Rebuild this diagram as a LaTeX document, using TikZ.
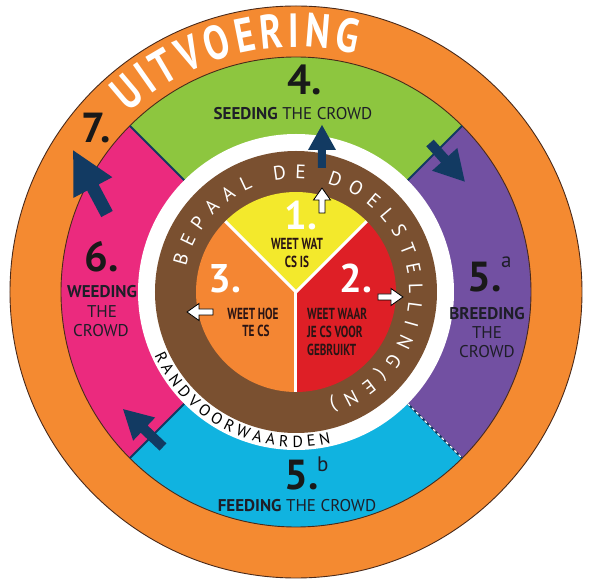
\documentclass[tikz,border=0pt]{standalone}
\usepackage{fontspec}
\setmainfont{PT Sans}
\newfontfamily\condfont[FakeStretch=0.7]{PT Sans}
\newfontfamily\arcfont[FakeStretch=0.78]{PT Sans}
\usetikzlibrary{decorations.text}
\definecolor{ringorange}{HTML}{F48A31}
\definecolor{seggreen}{HTML}{8DC63F}
\definecolor{segpurple}{HTML}{7250A2}
\definecolor{segblue}{HTML}{10B3E0}
\definecolor{segpink}{HTML}{EB2A7E}
\definecolor{ringbrown}{HTML}{7A5030}
\definecolor{pieyellow}{HTML}{F3E92C}
\definecolor{piered}{HTML}{DE1F26}
\definecolor{pieorange}{HTML}{F48633}
\definecolor{navy}{HTML}{123A62}
\definecolor{outline}{HTML}{4A2A1A}
\definecolor{lbltext}{HTML}{1E1E28}
\definecolor{pietext}{HTML}{2A1414}
\newcommand\blkarrow[7]{%
  \begin{scope}[shift={#2},rotate=#3]
    \path[#1] (0,-#7) -- ({#4-#5},-#7) -- ({#4-#5},-#6) -- (#4,0) -- ({#4-#5},#6) -- ({#4-#5},#7) -- (0,#7) -- cycle;
  \end{scope}}
\tikzset{
  lbl/.style={inner sep=0pt, text=lbltext, font=\fontsize{17}{20}\selectfont},
  bignum/.style={inner sep=0pt, text=black!90, font=\bfseries\fontsize{42}{42}\selectfont},
  pienum/.style={inner sep=0pt, text=white, font=\bfseries\fontsize{40}{40}\selectfont},
  pielbl/.style={inner sep=0pt, text=pietext, font=\condfont\bfseries\fontsize{16}{18}\selectfont},
  supl/.style={inner sep=0pt, text=lbltext, font=\fontsize{21}{21}\selectfont},
  navyarrow/.style={fill=navy},
  whitearrow/.style={fill=white, draw=black, line width=0.8pt, line join=miter},
  divider/.style={draw=navy, line width=2pt},
}
\begin{document}
\begin{tikzpicture}[x=1pt,y=1pt]
\useasboundingbox (-296,-294) rectangle (299,292);
\fill[white] (-296,-294) rectangle (299,292);
% outer ring
\fill[ringorange] (0,0) circle (286);
% segments
\fill[seggreen] (0,0) -- (45:235) arc[start angle=45,end angle=135,radius=235] -- cycle;
\fill[segpink] (0,0) -- (135:235) arc[start angle=135,end angle=225,radius=235] -- cycle;
\fill[segblue] (0,0) -- (225:235) arc[start angle=225,end angle=315,radius=235] -- cycle;
\fill[segpurple] (0,0) -- (-45:235) arc[start angle=-45,end angle=45,radius=235] -- cycle;
\draw[outline, line width=0.9pt] (0,0) circle (286);
\draw[outline, line width=0.9pt] (0,0) circle (235);
% dividers
\draw[divider] (45:158) -- (45:235);
\draw[divider] (135:158) -- (135:235);
\draw[divider] (225:158) -- (225:235);
\draw[divider] (-45:158) -- (-45:235);
\draw[white, line width=1.2pt, dash pattern=on 3pt off 3pt] (-45:158) -- (-45:235);
% white ring, brown ring
\fill[white] (0,0) circle (158);
\fill[ringbrown] (0,0) circle (141);
% pie
\fill[pieyellow] (0,0) -- (45:100) arc[start angle=45,end angle=135,radius=100] -- cycle;
\fill[piered] (0,0) -- (-90:100) arc[start angle=-90,end angle=45,radius=100] -- cycle;
\fill[pieorange] (0,0) -- (135:100) arc[start angle=135,end angle=270,radius=100] -- cycle;
\draw[white, line width=3pt] (0,0) -- (45:100);
\draw[white, line width=3pt] (0,0) -- (135:100);
\draw[white, line width=3pt] (0,0) -- (-90:100);
% curved texts
\path[decorate, decoration={text along path, text color=white,
  text={|\arcfont\bfseries\fontsize{48}{48}\selectfont|UITVOERING}, text align={fit to path}}]
  (133:245) arc[start angle=133, end angle=76, radius=245];
\path[decorate, decoration={text along path, text color=white,
  text={|\fontsize{19.5}{19.5}\selectfont|BEPAAL DE DOELSTELLING(EN)}, text align={fit to path}}]
  (167:113) arc[start angle=167, end angle=-73, radius=113];
\path[decorate, decoration={text along path, text color=black,
  text={|\fontsize{16}{16}\selectfont|RANDVOORWAARDEN}, text align={fit to path}}]
  (204:155) arc[start angle=204, end angle=283, radius=155];
% navy arrows
\blkarrow{navyarrow}{(-189,78)}{118}{72}{42}{22}{6.5}
\blkarrow{navyarrow}{(26,124)}{90}{43}{25}{14}{4}
\blkarrow{navyarrow}{(134,149)}{-48}{52}{30}{17}{5}
\blkarrow{navyarrow}{(-133,-155)}{136.5}{55}{29}{16}{5}
% white arrows
\blkarrow{whitearrow}{(26,79)}{90}{25}{12}{8.5}{3}
\blkarrow{whitearrow}{(82,-5)}{0}{25}{12}{8.5}{3}
\blkarrow{whitearrow}{(-83,-20)}{180}{26}{12}{8.5}{3}
% segment labels
\node[bignum, anchor=base] (n4) at (9,197) {4.};
\node[lbl, anchor=base] (seed) at (-3,172.5) {\textbf{SEEDING} THE CROWD};
\node[bignum, anchor=base] (n7) at (-200,149) {7.};
\node[bignum, anchor=base] (n6) at (-194,20) {6.};
\node[lbl, anchor=base] (weed1) at (-194,-6) {\textbf{WEEDING}};
\node[lbl, anchor=base] (weed2) at (-194,-26) {THE};
\node[lbl, anchor=base] (weed3) at (-195,-45) {CROWD};
\node[bignum, anchor=base] (n5a) at (189,0) {5.};
\node[supl, anchor=base west] (sa) at (205,24) {a};
\node[lbl, anchor=base] (breed1) at (191,-28) {\textbf{BREEDING}};
\node[lbl, anchor=base] (breed2) at (191,-47) {THE};
\node[lbl, anchor=base] (breed3) at (191,-66) {CROWD};
\node[bignum, anchor=base] (n5b) at (6,-198) {5.};
\node[supl, anchor=base west] (sb) at (21,-180) {b};
\node[lbl, anchor=base] (feed) at (1,-220) {\textbf{FEEDING} THE CROWD};
% pie labels
\node[pienum, anchor=base] (p1) at (5,62) {1.};
\node[pielbl, anchor=base] (p1a) at (1,42) {WEET WAT};
\node[pielbl, anchor=base] (p1b) at (1,24) {CS IS};
\node[pienum, anchor=base] (p3) at (-71,-1) {3.};
\node[pielbl, anchor=base] (p3a) at (-43,-28) {WEET HOE};
\node[pielbl, anchor=base] (p3b) at (-40,-45) {TE CS};
\node[pienum, anchor=base] (p2) at (60,-1) {2.};
\node[pielbl, anchor=base west] (p2a) at (11,-28) {WEET WAAR};
\node[pielbl, anchor=base west] (p2b) at (11,-46) {JE CS VOOR};
\node[pielbl, anchor=base west] (p2c) at (11,-64) {GEBRUIKT};
\end{tikzpicture}
\end{document}
